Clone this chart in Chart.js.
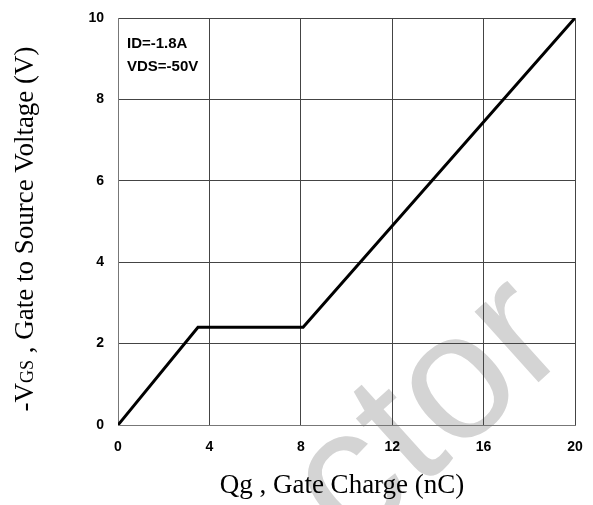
<!DOCTYPE html>
<html>
<head>
<meta charset="utf-8">
<script src="https://cdn.jsdelivr.net/npm/chart.js@4/dist/chart.umd.min.js"></script>
<style>
  html, body { margin: 0; padding: 0; background: #fff; }
  #wrap { width: 593px; height: 505px; position: relative; }
</style>
</head>
<body>
<div id="wrap"><canvas id="qgChart" width="593" height="505"></canvas></div>
<script>
// Curva de carga de compuerta
const qgValues = [0, 3.5, 8.1, 20];
const vgsValues = [0, 2.4, 2.4, 10];
const xTicks = [0, 4, 8, 12, 16, 20];
const yTicks = [0, 2, 4, 6, 8, 10];
const notas = ['ID=-1.8A', 'VDS=-50V'];

const puntos = qgValues.map((q, i) => ({ x: q, y: vgsValues[i] }));

// textos fuera del area: titulos, notas y marca de agua
const textosPlugin = {
    id: 'textos',
    beforeDraw(chart) {
        const ctx = chart.ctx;
        ctx.save();
        ctx.fillStyle = '#fff';
        ctx.fillRect(0, 0, chart.width, chart.height);
        // marca de agua
        ctx.translate(429, 414);
        ctx.rotate(-42 * Math.PI / 180);
        ctx.fillStyle = '#d4d4d4';
        ctx.font = '180px "Liberation Sans", sans-serif';
        ctx.textAlign = 'center';
        ctx.textBaseline = 'middle';
        ctx.fillText('ctor', 0, 0);
        ctx.restore();
    },
    afterDraw(chart) {
        const ctx = chart.ctx;
        ctx.save();
        ctx.fillStyle = '#000';

        // titulo eje X
        ctx.font = '27px "Liberation Serif", serif';
        ctx.textAlign = 'center';
        ctx.textBaseline = 'alphabetic';
        ctx.fillText('Qg , Gate Charge (nC)', 342, 493);

        // titulo eje Y con subindice
        ctx.translate(33, 229);
        ctx.rotate(-Math.PI / 2);
        const big = '27px "Liberation Serif", serif';
        const small = '18px "Liberation Serif", serif';
        const partes = [['-V', big], ['GS', small], [' , Gate to Source Voltage (V)', big]];
        let total = 0;
        partes.forEach(p => { ctx.font = p[1]; total += ctx.measureText(p[0]).width; });
        let x = -total / 2;
        ctx.textAlign = 'left';
        partes.forEach(p => {
            ctx.font = p[1];
            ctx.fillText(p[0], x, 0);
            x += ctx.measureText(p[0]).width;
        });
        ctx.restore();

        // notas
        const area = chart.chartArea;
        ctx.save();
        ctx.fillStyle = '#000';
        ctx.font = 'bold 15px "Liberation Sans", sans-serif';
        ctx.textAlign = 'left';
        ctx.fillText(notas[0], area.left + 9, 48);
        ctx.fillText(notas[1], area.left + 9, 71);
        ctx.restore();
    }
};

new Chart(document.getElementById('qgChart'), {
    type: 'scatter',
    data: {
        datasets: [{
            data: puntos,
            showLine: true,
            borderColor: '#000',
            borderWidth: 3,
            pointRadius: 0,
            fill: false,
            tension: 0
        }]
    },
    options: {
        responsive: false,
        animation: false,
        layout: { padding: { top: 18, right: 18, left: 0, bottom: 0 } },
        plugins: { legend: { display: false }, tooltip: { enabled: false } },
        scales: {
            x: {
                type: 'linear',
                min: 0,
                max: 20,
                afterFit: s => {
                    s.height = 80;
                    s.paddingLeft = 0;
                    s.paddingRight = 0;
                },
                afterBuildTicks: s => { s.ticks = xTicks.map(v => ({ value: v })); },
                grid: { color: '#444', lineWidth: 1, drawTicks: false },
                border: { color: '#777', width: 1 },
                ticks: {
                    color: '#000',
                    padding: 14,
                    maxRotation: 0,
                    font: { family: '"Liberation Sans", sans-serif', size: 14, weight: 'bold' }
                }
            },
            y: {
                type: 'linear',
                min: 0,
                max: 10,
                afterFit: s => {
                    s.width = 118;
                    s.paddingTop = 0;
                    s.paddingBottom = 0;
                },
                afterBuildTicks: s => { s.ticks = yTicks.map(v => ({ value: v })); },
                grid: { color: '#444', lineWidth: 1, drawTicks: false },
                border: { color: '#777', width: 1 },
                ticks: {
                    color: '#000',
                    padding: 14,
                    font: { family: '"Liberation Sans", sans-serif', size: 14, weight: 'bold' }
                }
            }
        }
    },
    plugins: [textosPlugin]
});
</script>
</body>
</html>
